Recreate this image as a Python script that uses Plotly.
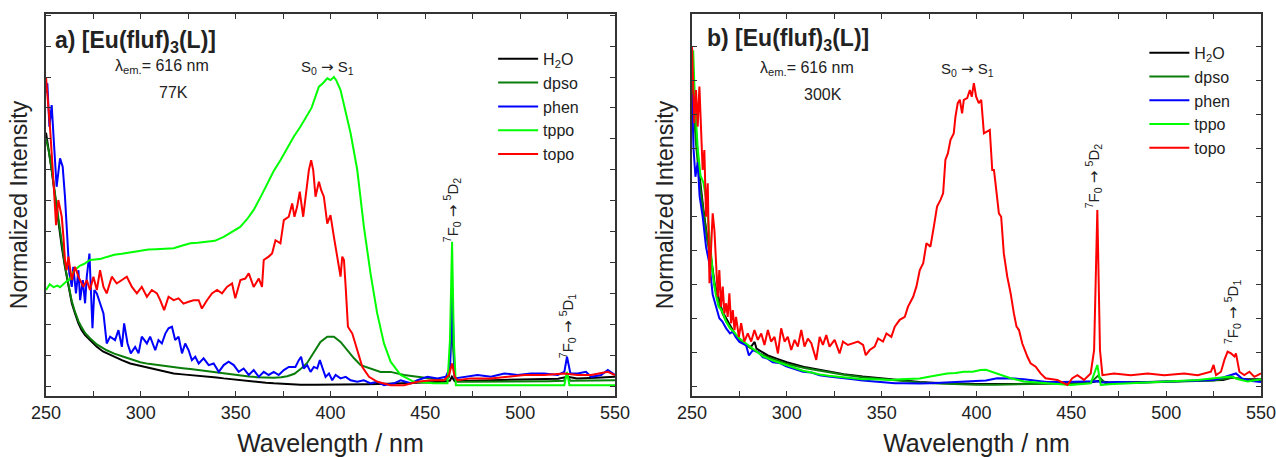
import plotly.graph_objects as go

# ---------------- a) 77 K excitation spectra ----------------
wl_77_h2o = [250, 251.2, 253.0, 254.8, 256.5, 258.3, 260.0, 261.8, 263.6, 265.3, 267.1, 268.8, 270.6,
             273.2, 276.8, 280, 282.0, 285, 287.3, 290, 294.4, 298, 301.4, 305, 308.5, 313, 317.3, 322,
             326.1, 330, 334.9, 340, 343.7, 348, 352.5, 357, 361.3, 366, 370.1, 377, 384.2, 392, 400,
             410, 420, 430, 440, 450, 460, 463, 464, 465.5, 470, 480, 490, 500, 510, 520, 525, 530, 540, 550]
int_77_h2o = [0.82, 0.775, 0.699, 0.613, 0.526, 0.451, 0.386, 0.321, 0.268, 0.235, 0.203, 0.181, 0.165,
              0.149, 0.127, 0.112, 0.106, 0.098, 0.090, 0.084, 0.073, 0.068, 0.062, 0.057, 0.052, 0.046,
              0.041, 0.038, 0.036, 0.033, 0.030, 0.028, 0.025, 0.022, 0.019, 0.016, 0.014, 0.011, 0.009,
              0.006, 0.004, 0.004, 0.004, 0.005, 0.006, 0.008, 0.010, 0.012, 0.014, 0.018, 0.030, 0.016,
              0.016, 0.018, 0.020, 0.021, 0.022, 0.024, 0.030, 0.025, 0.027, 0.030]

wl_77_dpso = [250, 251.5, 253, 254.8, 256.5, 258.3, 260, 261.8, 263.6, 265.3, 267.1, 268.8, 270.6, 273.2,
              276.8, 282, 286, 290.9, 295, 299.7, 304, 308.5, 313, 317.3, 322, 326.1, 330, 334.9, 339,
              343.7, 348, 352.5, 357, 361.3, 366, 370.1, 374, 377.2, 381, 384.2, 387.7, 391.2, 394.7,
              398.3, 401.8, 405.3, 408.8, 412.4, 415.9, 421.2, 426.4, 431.7, 438.8, 445.8, 452.9, 459.9,
              462.5, 464, 465.5, 467, 475, 484.6, 495, 505, 515, 523, 524.7, 526.5, 535, 545, 550]
int_77_dpso = [0.80, 0.76, 0.70, 0.62, 0.53, 0.46, 0.39, 0.33, 0.275, 0.24, 0.21, 0.19, 0.172, 0.155,
               0.135, 0.116, 0.105, 0.095, 0.086, 0.077, 0.072, 0.068, 0.065, 0.062, 0.058, 0.055, 0.052,
               0.048, 0.044, 0.040, 0.037, 0.034, 0.031, 0.029, 0.028, 0.027, 0.029, 0.032, 0.040, 0.055,
               0.075, 0.111, 0.143, 0.160, 0.160, 0.143, 0.116, 0.090, 0.068, 0.057, 0.046, 0.046, 0.036,
               0.030, 0.025, 0.019, 0.030, 0.200, 0.030, 0.014, 0.014, 0.014, 0.015, 0.015, 0.016, 0.017,
               0.036, 0.017, 0.018, 0.019, 0.019]

wl_77_phen = [250, 250.7, 251.8, 253.0, 254.2, 255.6, 257.4, 258.8, 260.0, 260.9, 262.3, 263.6, 264.4,
              265.8, 267.1, 268.0, 269.4, 270.6, 271.5, 272.9, 273.6, 274.5, 275.5, 276.8, 278.5, 280.3,
              282.0, 283.8, 286.4, 288.2, 290.0, 291.2, 293.0, 294.7, 297.0, 298.8, 300.5, 303.2, 304.9,
              307.6, 309.3, 311.1, 312.9, 314.6, 316.4, 318.1, 319.9, 321.7, 323.4, 325.2, 326.9, 328.7,
              330.5, 333.1, 335.8, 338.4, 341.1, 343.7, 346.3, 349.0, 351.6, 354.2, 356.9, 359.5, 362.2,
              364.8, 367.4, 370.1, 372.7, 375.4, 378.0, 381.5, 383.3, 384.5, 385.9, 387.7, 389.5, 391.2,
              393.0, 394.4, 395.6, 397.4, 399.2, 400.9, 402.7, 405.3, 408.0, 410.6, 414.1, 417.6, 421.2,
              424.7, 428.2, 433.5, 437.0, 442.3, 445.8, 451.1, 456.4, 460.8, 463.1, 464.1, 465.5, 470.5,
              477.5, 484.6, 491.6, 498.6, 505.7, 512.7, 519.8, 523.3, 524.7, 526.5, 530.3, 534.7, 537.4,
              542.7, 546.2, 550]
int_77_phen = [0.95, 0.98, 0.839, 0.909, 0.785, 0.645, 0.737, 0.710, 0.613, 0.516, 0.365, 0.321, 0.386,
               0.300, 0.375, 0.278, 0.343, 0.268, 0.354, 0.429, 0.300, 0.187, 0.311, 0.300, 0.268, 0.235,
               0.138, 0.160, 0.149, 0.181, 0.127, 0.203, 0.138, 0.106, 0.127, 0.106, 0.160, 0.138, 0.160,
               0.116, 0.149, 0.138, 0.170, 0.187, 0.192, 0.149, 0.160, 0.106, 0.138, 0.116, 0.084, 0.095,
               0.073, 0.090, 0.068, 0.073, 0.046, 0.068, 0.079, 0.068, 0.046, 0.057, 0.036, 0.052, 0.030,
               0.046, 0.036, 0.046, 0.036, 0.052, 0.062, 0.062, 0.084, 0.095, 0.057, 0.068, 0.046, 0.062,
               0.057, 0.084, 0.062, 0.030, 0.041, 0.019, 0.036, 0.025, 0.030, 0.019, 0.014, 0.019, 0.009,
               0.014, 0.003, 0.009, 0.019, 0.009, 0.019, 0.030, 0.025, 0.030, 0.062, 0.320, 0.025, 0.030,
               0.036, 0.030, 0.041, 0.036, 0.041, 0.041, 0.036, 0.046, 0.095, 0.041, 0.041, 0.046, 0.030,
               0.036, 0.052, 0.036]

wl_77_tppo = [250, 252, 254, 256, 257.4, 259, 261, 262.5, 264.4, 266, 268, 270, 273.2, 276, 279, 282.1,
              286, 290, 294, 299.7, 304, 308, 312, 317.3, 322, 326.1, 330, 334.9, 339, 343.7, 348, 352.4,
              356, 359.5, 363, 366.6, 370, 373.6, 377, 380.6, 384.2, 387, 390, 393.9, 396, 398.3, 400,
              401.8, 403, 405.3, 408, 410.6, 414.1, 417.6, 421.1, 424.6, 428.2, 431.7, 437, 444, 454.6,
              461.7, 463, 464.1, 465, 466.1, 480, 500, 520, 523.3, 524.7, 526, 540, 550]
int_77_tppo = [0.311, 0.33, 0.32, 0.325, 0.32, 0.33, 0.34, 0.345, 0.37, 0.38, 0.39, 0.395, 0.408, 0.41,
               0.412, 0.418, 0.425, 0.428, 0.432, 0.44, 0.442, 0.443, 0.445, 0.446, 0.455, 0.462, 0.464,
               0.467, 0.47, 0.483, 0.50, 0.515, 0.54, 0.57, 0.61, 0.656, 0.695, 0.731, 0.77, 0.807, 0.84,
               0.87, 0.90, 0.969, 0.98, 0.996, 0.99, 1.0, 0.99, 0.958, 0.89, 0.818, 0.70, 0.516, 0.365,
               0.236, 0.138, 0.079, 0.036, 0.014, 0.009, 0.009, 0.15, 0.467, 0.15, 0.003, 0.003, 0.003,
               0.003, 0.003, 0.046, 0.003, 0.003, 0.003]

wl_77_topo = [250, 252.1, 253.9, 255.3, 256.5, 258.3, 259.2, 260.0, 260.9, 261.8, 263.6, 265.3, 267.1,
              269.7, 271.5, 273.2, 275.0, 276.8, 278.5, 280.3, 282.0, 284.7, 287.3, 290.0, 292.6, 295.3,
              297.9, 300.5, 303.2, 305.8, 308.5, 310.2, 312.3, 314.6, 317.3, 319.9, 322.5, 325.2, 327.8,
              330.5, 332.2, 334.9, 337.5, 340.2, 342.8, 345.4, 348.1, 349.8, 352.5, 355.1, 356.9, 359.5,
              362.2, 363.9, 364.8, 367.4, 369.2, 371.0, 373.6, 375.4, 378.0, 379.8, 381.0, 382.4, 383.8,
              385.6, 386.8, 388.6, 389.8, 390.9, 392.1, 393.9, 395.1, 396.5, 398.3, 400.0, 401.8, 403.6,
              405.3, 406.2, 407.1, 408.0, 409.2, 411.5, 414.1, 416.8, 420.3, 424.7, 431.7, 438.8, 445.8,
              452.9, 459.9, 462.5, 464.1, 465.5, 466.9, 474.0, 484.6, 493.4, 502.2, 512.7, 523.3, 530.3,
              537.4, 546.2, 550]
int_77_topo = [1.0, 0.839, 0.667, 0.521, 0.602, 0.548, 0.483, 0.408, 0.375, 0.419, 0.343, 0.386, 0.354,
               0.321, 0.343, 0.311, 0.354, 0.311, 0.375, 0.321, 0.300, 0.354, 0.332, 0.343, 0.354, 0.321,
               0.300, 0.321, 0.289, 0.311, 0.300, 0.278, 0.246, 0.289, 0.278, 0.284, 0.267, 0.273, 0.278,
               0.278, 0.251, 0.278, 0.300, 0.311, 0.300, 0.321, 0.332, 0.284, 0.343, 0.348, 0.365, 0.321,
               0.348, 0.321, 0.408, 0.419, 0.429, 0.472, 0.462, 0.537, 0.548, 0.591, 0.548, 0.580, 0.629,
               0.548, 0.602, 0.699, 0.731, 0.699, 0.613, 0.661, 0.634, 0.613, 0.526, 0.553, 0.483, 0.419,
               0.354, 0.419, 0.408, 0.321, 0.192, 0.170, 0.116, 0.062, 0.030, 0.014, 0.003, 0.003, 0.014,
               0.019, 0.019, 0.036, 0.073, 0.030, 0.019, 0.025, 0.025, 0.030, 0.036, 0.036, 0.041, 0.036,
               0.036, 0.046, 0.036]

# ---------------- b) 300 K excitation spectra ----------------
wl_300_h2o = [250, 252, 254, 256, 258, 260, 262, 264, 266, 268, 270, 273, 276, 279, 281, 283, 284, 287,
              290, 295, 300, 310, 320, 330, 340, 350, 360, 370, 380, 400, 420, 440, 460, 464, 470, 490,
              510, 530, 535, 540, 550]
int_300_h2o = [0.92, 0.75, 0.62, 0.52, 0.44, 0.38, 0.30, 0.26, 0.22, 0.20, 0.18, 0.15, 0.135, 0.12,
               0.115, 0.13, 0.11, 0.10, 0.09, 0.08, 0.07, 0.055, 0.045, 0.035, 0.028, 0.022, 0.017, 0.012,
               0.009, 0.006, 0.006, 0.008, 0.010, 0.015, 0.010, 0.012, 0.014, 0.018, 0.025, 0.020, 0.020]

wl_300_dpso = [250, 252, 254, 256, 258, 260, 262, 264, 266, 268, 270, 273, 276, 279, 282, 286, 290, 295,
               300, 310, 320, 330, 340, 350, 360, 370, 380, 390, 400, 410, 420, 430, 440, 450, 460, 464,
               468, 480, 495, 510, 525, 535, 542, 550]
int_300_dpso = [0.90, 0.72, 0.60, 0.51, 0.43, 0.37, 0.29, 0.25, 0.215, 0.19, 0.175, 0.15, 0.132, 0.118,
                0.108, 0.095, 0.085, 0.075, 0.065, 0.052, 0.042, 0.033, 0.026, 0.020, 0.015, 0.010, 0.007,
                0.005, 0.004, 0.004, 0.005, 0.006, 0.007, 0.008, 0.009, 0.030, 0.008, 0.009, 0.011, 0.013,
                0.016, 0.025, 0.018, 0.016]

wl_300_phen = [250, 250.8, 251.8, 253, 254, 255.6, 257.4, 259.2, 260.9, 262.7, 264.4, 266, 268, 270,
               271.5, 273, 275, 278.5, 280, 282, 285, 287.3, 290, 292.6, 296, 299.7, 304, 308.5, 313,
               317.3, 322, 326.1, 330, 334.9, 340, 343.7, 348, 352.5, 357, 361.3, 366, 370, 375.7, 385,
               393, 400, 405, 410.9, 415, 420, 425, 430, 437, 445, 455, 462, 464, 466, 475, 485, 495,
               505, 515, 525, 530, 534.2, 536.8, 540, 545, 550]
int_300_phen = [0.86, 0.70, 0.617, 0.66, 0.56, 0.50, 0.41, 0.36, 0.27, 0.23, 0.20, 0.19, 0.17, 0.155,
                0.16, 0.145, 0.13, 0.12, 0.09, 0.105, 0.10, 0.085, 0.08, 0.07, 0.068, 0.058, 0.05, 0.042,
                0.04, 0.032, 0.028, 0.026, 0.022, 0.02, 0.016, 0.014, 0.012, 0.010, 0.008, 0.008, 0.007,
                0.007, 0.008, 0.010, 0.012, 0.013, 0.016, 0.023, 0.023, 0.022, 0.020, 0.016, 0.012, 0.012,
                0.012, 0.012, 0.014, 0.010, 0.012, 0.010, 0.012, 0.014, 0.015, 0.018, 0.025, 0.032, 0.037,
                0.022, 0.015, 0.012]

wl_300_tppo = [250, 250.6, 251.5, 253, 254.5, 256, 257.5, 259, 260, 261, 262.5, 264, 266, 268, 270, 272,
               275, 278.5, 282, 284, 287.3, 292.6, 299.7, 304, 308.5, 313, 317.3, 322, 326.1, 330, 334.9,
               340, 345, 350, 355, 360, 365, 370, 375.7, 380, 384.5, 389, 393.3, 398, 402.1, 405, 410.9,
               418, 425, 437, 449.7, 460.2, 463.7, 465.5, 472, 481.3, 490, 499, 508, 516.6, 525.4, 530,
               534.2, 538, 543, 550]
int_300_tppo = [0.95, 0.99, 0.85, 0.70, 0.62, 0.60, 0.55, 0.45, 0.40, 0.33, 0.27, 0.234, 0.22, 0.19,
                0.17, 0.16, 0.14, 0.125, 0.11, 0.10, 0.088, 0.075, 0.062, 0.052, 0.045, 0.040, 0.034,
                0.030, 0.028, 0.024, 0.022, 0.020, 0.020, 0.018, 0.018, 0.020, 0.022, 0.022, 0.028, 0.032,
                0.037, 0.038, 0.042, 0.042, 0.047, 0.048, 0.037, 0.023, 0.013, 0.008, 0.003, 0.008, 0.062,
                0.003, 0.006, 0.008, 0.010, 0.013, 0.015, 0.018, 0.023, 0.025, 0.028, 0.020, 0.013, 0.020]

wl_300_topo = [250, 251.2, 252.1, 253.0, 253.9, 254.8, 255.6, 256.5, 257.4, 258.3, 259.2, 260.0, 260.9,
               261.8, 262.7, 263.6, 264.4, 265.3, 266.2, 267.1, 268.0, 268.8, 269.7, 270.6, 271.5, 272.4,
               273.2, 274.7, 275.9, 277.6, 279.4, 281.2, 282.9, 284.7, 286.5, 288.2, 290.0, 291.7, 293.5,
               295.3, 297.0, 298.8, 300.5, 302.3, 304.1, 305.8, 307.6, 309.3, 311.1, 312.9, 315.5, 317.3,
               319.0, 320.8, 322.5, 325.2, 327.8, 329.6, 332.2, 334.9, 337.5, 340.2, 341.6, 343.7, 346.3,
               348.1, 350.7, 352.5, 355.1, 356.9, 359.5, 362.2, 363.9, 366.6, 368.3, 370.1, 371.9, 373.6,
               375.7, 377.5, 379.2, 381.0, 382.4, 383.6, 384.9, 386.3, 388.0, 388.9, 390.1, 391.2, 392.4,
               393.3, 395.1, 396.5, 397.5, 398.6, 399.8, 401.2, 402.5, 403.9, 405.6, 407.0, 408.3, 409.2,
               410.0, 411.8, 413.0, 414.4, 416.2, 418.0, 419.7, 421.1, 422.4, 424.1, 426.8, 428.5, 431.2,
               433.8, 436.4, 442.6, 447.9, 450.5, 453.2, 456.7, 460.2, 462.0, 463.7, 465.1, 466.4, 472.5,
               481.3, 490.2, 499.0, 509.5, 516.6, 523.6, 525.0, 526.3, 528.9, 530.7, 532.4, 534.2, 536.0,
               536.8, 538.6, 541.2, 543.9, 546.5, 550]
int_300_topo = [1.0, 0.775, 0.873, 0.765, 0.883, 0.726, 0.637, 0.696, 0.499, 0.598, 0.303, 0.401, 0.509,
                0.460, 0.342, 0.263, 0.342, 0.234, 0.293, 0.214, 0.244, 0.204, 0.273, 0.185, 0.224, 0.165,
                0.204, 0.145, 0.185, 0.131, 0.155, 0.131, 0.165, 0.136, 0.155, 0.121, 0.165, 0.131, 0.145,
                0.096, 0.170, 0.131, 0.145, 0.106, 0.136, 0.116, 0.165, 0.116, 0.140, 0.126, 0.077, 0.145,
                0.121, 0.150, 0.116, 0.136, 0.096, 0.131, 0.121, 0.126, 0.131, 0.121, 0.091, 0.106, 0.116,
                0.140, 0.131, 0.155, 0.145, 0.175, 0.195, 0.204, 0.234, 0.263, 0.293, 0.342, 0.362, 0.421,
                0.411, 0.470, 0.529, 0.549, 0.568, 0.667, 0.686, 0.726, 0.745, 0.794, 0.834, 0.844, 0.804,
                0.844, 0.849, 0.873, 0.853, 0.893, 0.853, 0.834, 0.844, 0.745, 0.750, 0.755, 0.637, 0.637,
                0.598, 0.509, 0.499, 0.391, 0.323, 0.273, 0.214, 0.175, 0.165, 0.126, 0.087, 0.067, 0.057,
                0.037, 0.023, 0.018, 0.003, 0.023, 0.032, 0.018, 0.037, 0.106, 0.519, 0.106, 0.032, 0.037,
                0.032, 0.037, 0.032, 0.037, 0.032, 0.042, 0.062, 0.032, 0.042, 0.077, 0.101, 0.096, 0.087,
                0.096, 0.042, 0.032, 0.042, 0.027, 0.037]

ligands = ["H<sub>2</sub>O", "dpso", "phen", "tppo", "topo"]
colors = ["#000000", "#0a7d0a", "#0000ff", "#00ff00", "#ff0000"]

series_77 = [(wl_77_h2o, int_77_h2o), (wl_77_dpso, int_77_dpso), (wl_77_phen, int_77_phen),
             (wl_77_tppo, int_77_tppo), (wl_77_topo, int_77_topo)]
series_300 = [(wl_300_h2o, int_300_h2o), (wl_300_dpso, int_300_dpso), (wl_300_phen, int_300_phen),
              (wl_300_tppo, int_300_tppo), (wl_300_topo, int_300_topo)]

FONT = "Liberation Sans, Arial, sans-serif"
AXIS_COLOR = "#333333"
ARROW = " <span style='font-family:DejaVu Sans'>→</span> "

fig = go.Figure()
for name, color, (wl, y) in zip(ligands, colors, series_77):
    fig.add_trace(go.Scatter(x=wl, y=y, name=name, mode="lines",
                             line=dict(color=color, width=2),
                             xaxis="x", yaxis="y", legend="legend"))
for name, color, (wl, y) in zip(ligands, colors, series_300):
    fig.add_trace(go.Scatter(x=wl, y=y, name=name, mode="lines",
                             line=dict(color=color, width=2),
                             xaxis="x2", yaxis="y2", legend="legend2"))


def x_axis(domain, anchor):
    return dict(domain=domain, anchor=anchor, range=[250, 550], tick0=250, dtick=50,
                automargin=False, ticklabeloverflow="allow",
                ticks="inside", ticklen=5, tickwidth=1.2, tickcolor=AXIS_COLOR,
                minor=dict(dtick=25, ticks="inside", ticklen=5, tickwidth=1.2, tickcolor=AXIS_COLOR),
                showline=True, linecolor=AXIS_COLOR, linewidth=1.5, mirror="allticks",
                showgrid=False, zeroline=False,
                tickfont=dict(size=18, color="#222222", family=FONT),
                title=dict(text="Wavelength / nm", font=dict(size=25, color="#222222", family=FONT),
                           standoff=17))


def y_axis(domain, anchor, rng):
    return dict(domain=domain, anchor=anchor, range=rng, tick0=0, dtick=0.1,
                automargin=False,
                ticks="inside", ticklen=5, tickwidth=1.2, tickcolor=AXIS_COLOR,
                showticklabels=False,
                showline=True, linecolor=AXIS_COLOR, linewidth=1.5, mirror="allticks",
                showgrid=False, zeroline=False,
                title=dict(text="Normalized Intensity", font=dict(size=23, color="#222222", family=FONT),
                           standoff=10))


legend_style = dict(font=dict(size=16, color="#222222", family=FONT), bgcolor="rgba(0,0,0,0)",
                    itemwidth=40, tracegroupgap=0, xanchor="left", yanchor="top")

fig.update_layout(
    width=1276, height=457,
    margin=dict(l=46, r=15, t=14, b=61, autoexpand=False),
    paper_bgcolor="white", plot_bgcolor="white",
    font=dict(family=FONT, color="#222222"),
    xaxis=x_axis([0, 0.4683], "y"),
    yaxis=y_axis([0, 1], "x", [-0.032, 1.204]),
    xaxis2=x_axis([0.5317, 1], "y2"),
    yaxis2=y_axis([0, 1], "x2", [-0.0295, 1.097]),
    legend=dict(x=0.368, y=0.927, **legend_style),
    legend2=dict(x=0.904, y=0.943, **legend_style),
)

# Panel labels and spectral assignments
def note(text, x, y, xref, yref, size, angle=0, bold=False):
    fig.add_annotation(text=f"<b>{text}</b>" if bold else text, x=x, y=y, xref=xref, yref=yref,
                       showarrow=False, textangle=angle,
                       font=dict(size=size, color="#222222", family=FONT))

note("a) [Eu(fluf)<sub>3</sub>(L)]", 297, 1.115, "x", "y", 23, bold=True)
note("λ<sub>em.</sub>= 616 nm", 311, 1.035, "x", "y", 16)
note("77K", 317, 0.951, "x", "y", 16)
note(f"S<sub>0</sub>{ARROW}S<sub>1</sub>", 398.4, 1.03, "x", "y", 15)
note(f"<sup>7</sup>F<sub>0</sub>{ARROW}<sup>5</sup>D<sub>2</sub>", 464.2, 0.57, "x", "y", 15, angle=-90)
note(f"<sup>7</sup>F<sub>0</sub>{ARROW}<sup>5</sup>D<sub>1</sub>", 524.7, 0.194, "x", "y", 15, angle=-90)

note("b) [Eu(fluf)<sub>3</sub>(L)]", 300.7, 1.021, "x2", "y2", 23, bold=True)
note("λ<sub>em.</sub>= 616 nm", 310.7, 0.935, "x2", "y2", 16)
note("300K", 319.2, 0.861, "x2", "y2", 16)
note(f"S<sub>0</sub>{ARROW}S<sub>1</sub>", 395.3, 0.932, "x2", "y2", 15)
note(f"<sup>7</sup>F<sub>0</sub>{ARROW}<sup>5</sup>D<sub>2</sub>", 461.5, 0.619, "x2", "y2", 15, angle=-90)
note(f"<sup>7</sup>F<sub>0</sub>{ARROW}<sup>5</sup>D<sub>1</sub>", 534.7, 0.218, "x2", "y2", 15, angle=-90)

fig.write_html("out.html")
